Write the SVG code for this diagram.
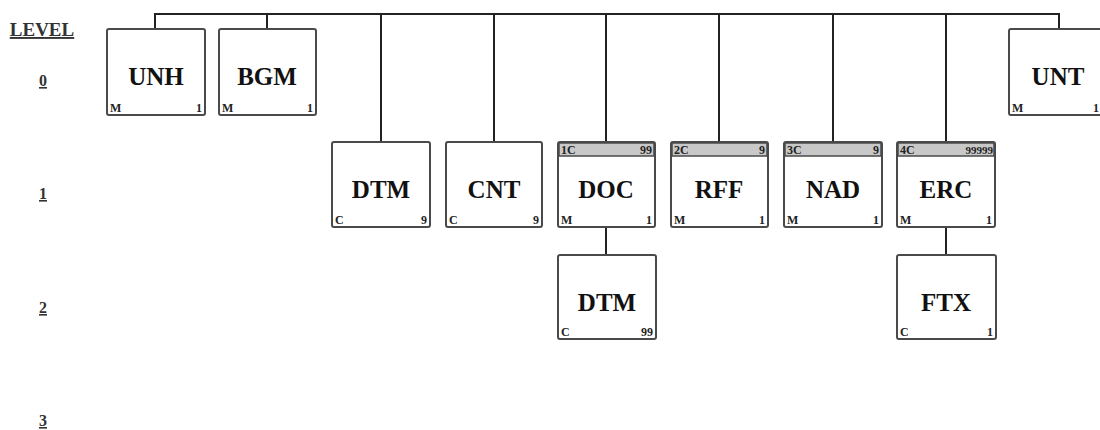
<svg xmlns="http://www.w3.org/2000/svg" width="1100" height="430" viewBox="0 0 1100 430">
<style>
.box{fill:#fff;stroke:#4a4a4a;stroke-width:2}
.hdr{fill:#c8c8c8;stroke:#4a4a4a;stroke-width:1.5}
.name{font-family:"Liberation Serif",serif;font-weight:bold;font-size:25px;fill:#111;text-anchor:middle}
.sm{font-family:"Liberation Serif",serif;font-weight:bold;font-size:12px;fill:#222}
.r{text-anchor:end}
.lvl{font-family:"Liberation Serif",serif;font-weight:bold;font-size:16px;fill:#333;text-anchor:middle;text-decoration:underline}
.conn{stroke:#222;stroke-width:2;fill:none}
</style>
<rect width="1100" height="430" fill="#fff"/>
<g id="levels">
<text class="lvl" x="42" y="36" style="font-size:19px">LEVEL</text>
<text class="lvl" x="43" y="86">0</text>
<text class="lvl" x="43" y="199">1</text>
<text class="lvl" x="43" y="313">2</text>
<text class="lvl" x="43" y="426">3</text>
</g>
<g id="connectors">
<path class="conn" d="M155 29V14H1059V29"/>
<path class="conn" d="M267 14V29"/>
<path class="conn" d="M381 14V142M494 14V142M606 14V142M719 14V142M833 14V142M946 14V142"/>
<path class="conn" d="M606 227V255M946 227V255"/>
</g>
<g id="UNH"><rect class="box" x="107" y="29" width="98" height="86" rx="2"/><text class="name" x="156" y="85">UNH</text><text class="sm" x="110" y="112">M</text><text class="sm r" x="202" y="112">1</text></g>
<g id="BGM"><rect class="box" x="219" y="29" width="97" height="86" rx="2"/><text class="name" x="267" y="85">BGM</text><text class="sm" x="222" y="112">M</text><text class="sm r" x="313" y="112">1</text></g>
<g id="UNT"><rect class="box" x="1009" y="29" width="98" height="86" rx="2"/><text class="name" x="1058" y="85">UNT</text><text class="sm" x="1012" y="112">M</text><text class="sm r" x="1099" y="112">1</text></g>
<g id="DTM1"><rect class="box" x="332" y="142" width="98" height="85" rx="2"/><text class="name" x="381" y="198">DTM</text><text class="sm" x="335" y="224">C</text><text class="sm r" x="427" y="224">9</text></g>
<g id="CNT"><rect class="box" x="446" y="142" width="96" height="85" rx="2"/><text class="name" x="494" y="198">CNT</text><text class="sm" x="449" y="224">C</text><text class="sm r" x="539" y="224">9</text></g>
<g id="DOC"><rect class="box" x="558" y="142" width="97" height="85" rx="2"/><rect class="hdr" x="559" y="143" width="95" height="13"/><text class="sm" x="561" y="154">1C</text><text class="sm r" x="652" y="154">99</text><text class="name" x="606" y="198">DOC</text><text class="sm" x="561" y="224">M</text><text class="sm r" x="652" y="224">1</text></g>
<g id="RFF"><rect class="box" x="671" y="142" width="97" height="85" rx="2"/><rect class="hdr" x="672" y="143" width="95" height="13"/><text class="sm" x="674" y="154">2C</text><text class="sm r" x="765" y="154">9</text><text class="name" x="719" y="198">RFF</text><text class="sm" x="674" y="224">M</text><text class="sm r" x="765" y="224">1</text></g>
<g id="NAD"><rect class="box" x="784" y="142" width="98" height="85" rx="2"/><rect class="hdr" x="785" y="143" width="96" height="13"/><text class="sm" x="787" y="154">3C</text><text class="sm r" x="879" y="154">9</text><text class="name" x="833" y="198">NAD</text><text class="sm" x="787" y="224">M</text><text class="sm r" x="879" y="224">1</text></g>
<g id="ERC"><rect class="box" x="897" y="142" width="98" height="85" rx="2"/><rect class="hdr" x="898" y="143" width="96" height="13"/><text class="sm" x="900" y="154">4C</text><text class="sm r" x="993" y="154" style="font-size:11px">99999</text><text class="name" x="946" y="198">ERC</text><text class="sm" x="900" y="224">M</text><text class="sm r" x="992" y="224">1</text></g>
<g id="DTM2"><rect class="box" x="558" y="255" width="98" height="84" rx="2"/><text class="name" x="607" y="311">DTM</text><text class="sm" x="561" y="336">C</text><text class="sm r" x="653" y="336">99</text></g>
<g id="FTX"><rect class="box" x="897" y="255" width="99" height="84" rx="2"/><text class="name" x="946" y="311">FTX</text><text class="sm" x="900" y="336">C</text><text class="sm r" x="993" y="336">1</text></g>
</svg>
